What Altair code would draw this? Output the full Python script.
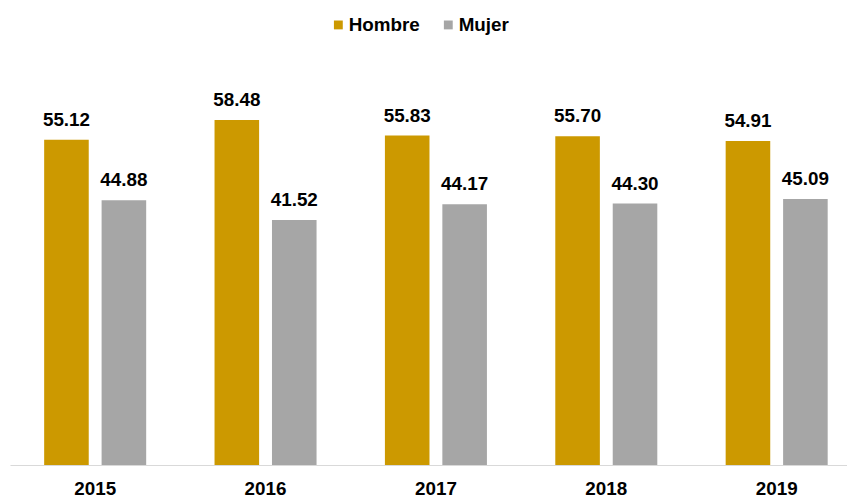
import altair as alt
import pandas as pd

years = ["2015", "2016", "2017", "2018", "2019"]
hombre = [55.12, 58.48, 55.83, 55.70, 54.91]
mujer = [44.88, 41.52, 44.17, 44.30, 45.09]
series = ["Hombre", "Mujer"]
colors = ["#CC9900", "#A6A6A6"]

rows = []
for i, y in enumerate(years):
    rows.append({"year": y, "sexo": "Hombre", "value": hombre[i]})
    rows.append({"year": y, "sexo": "Mujer", "value": mujer[i]})
df = pd.DataFrame(rows)

FONT = "Liberation Sans"

x = alt.X("year:N", title=None, sort=years,
          scale=alt.Scale(paddingInner=0, paddingOuter=0, rangeMin=0, rangeMax=860),
          axis=alt.Axis(labelAngle=0, labelFont=FONT, labelFontSize=19,
                        labelFontWeight="bold", labelColor="#000000",
                        labelPadding=15, ticks=False, grid=False,
                        domainColor="#D9D9D9", domainWidth=1.2))
xo = alt.XOffset("sexo:N", sort=series,
                 scale=alt.Scale(paddingInner=0.224, paddingOuter=0.595))
y = alt.Y("value:Q", scale=alt.Scale(domain=[0, 70]), axis=None)

base = alt.Chart(df).encode(x=x, xOffset=xo, y=y)

bars = base.mark_bar().encode(
    color=alt.Color("sexo:N", sort=series,
                    scale=alt.Scale(domain=series, range=colors),
                    legend=alt.Legend(title=None, orient="none", direction="horizontal",
                                      legendX=322, legendY=-37,
                                      symbolType="square", symbolSize=80,
                                      symbolStrokeWidth=0,
                                      labelFont=FONT, labelFontSize=19,
                                      labelFontWeight="bold", labelColor="#000000",
                                      labelOffset=1, columnPadding=19))
)

labels = base.mark_text(font=FONT, fontSize=19, fontWeight="bold",
                        color="#000000", baseline="alphabetic", dy=-14).encode(
    text=alt.Text("value:Q", format=".2f")
)

chart = (bars + labels).properties(
    width=845, height=417,
    autosize=alt.AutoSizeParams(type="none"),
    padding={"left": 2, "top": 42, "right": 0, "bottom": 34},
).configure_view(stroke=None)

chart.save("out.html", embed_options={"renderer": "svg", "actions": False})
